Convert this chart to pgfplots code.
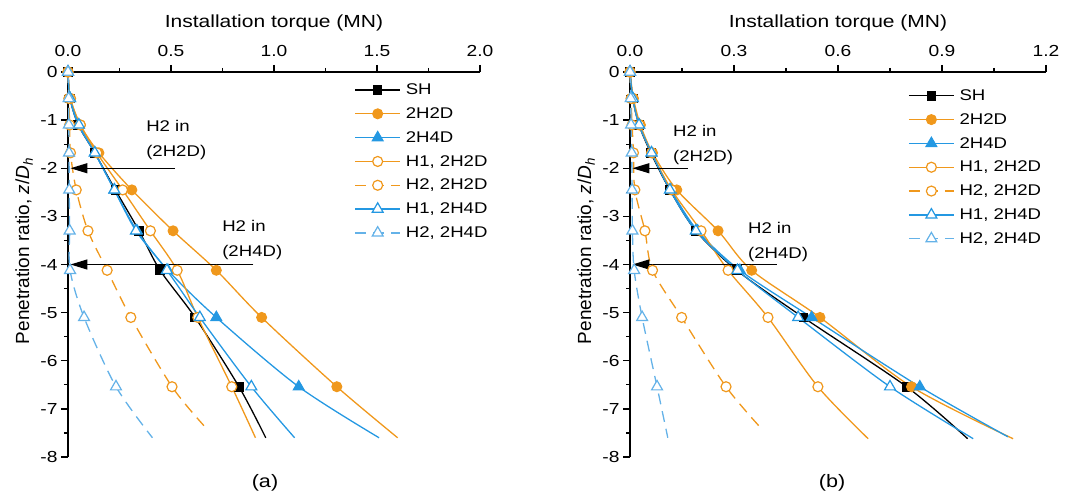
\documentclass[border=0pt]{standalone}
\usepackage{fontspec}
\setmainfont{Liberation Sans}[FakeStretch=1.2]
\newfontfamily\labfont{Liberation Sans}
\usepackage{pgfplots}
\pgfplotsset{compat=1.18}
\usetikzlibrary{arrows.meta}

\definecolor{tqorange}{RGB}{240,152,28}
\definecolor{tqblue}{RGB}{36,152,226}
\definecolor{tqlblue}{RGB}{100,178,232}

\pgfplotsset{
  torque/.style={
    scale only axis, height=385pt,
    axis x line*=top, axis y line*=left,
    xmin=0, ymin=-8, ymax=0,
    ytick={0,-1,-2,-3,-4,-5,-6,-7,-8},
    minor x tick num=1, minor y tick num=1,
    tick align=outside, major tick length=7pt, minor tick length=4pt,
    every tick/.style={black, line width=1.3pt},
    axis line style={black, line width=1.5pt},
    tick label style={font=\fontsize{16}{18}\selectfont},
    /pgf/number format/assume math mode=true,
    xticklabel style={/pgf/number format/fixed, /pgf/number format/fixed zerofill,
      /pgf/number format/precision=1, yshift=5pt},
    yticklabel style={/pgf/number format/fixed, /pgf/number format/precision=0},
    xlabel={Installation torque (MN)},
    xlabel style={font=\fontsize{17.5}{20}\selectfont, at={(axis description cs:0.5,1)},
      anchor=base, yshift=44pt},
    ylabel={\labfont\fontsize{19}{22}\selectfont Penetration ratio, \textit{z}/\textit{D}\textsubscript{\textit{h}}},
    ylabel style={at={([xshift=-35pt]axis description cs:0,0.535)}, anchor=south, inner sep=0pt},
    clip=false,
    legend cell align=left,
    legend style={draw=none, fill=none, inner sep=0pt, anchor=north west,
      font=\fontsize{15.5}{17}\selectfont, row sep=7.5pt,
      /tikz/every odd column/.style={column sep=3pt}},
    legend image code/.code={
      \draw[mark=none] (0pt,0pt) -- (45pt,0pt);
      \draw[mark indices={1}] plot coordinates {(22.5pt,0pt)};
    },
  },
  sh/.style={black, line width=1.3pt, smooth, mark=square*, mark size=4.3pt,
    mark options={solid, fill=black, line width=1pt}, mark indices={1,2,3,4,5,6,7,8,9}},
  ofull/.style={tqorange, line width=1.3pt, smooth, mark=*, mark size=5pt,
    mark options={solid, fill=tqorange, line width=1pt}, mark indices={1,2,3,4,5,6,7,8,9}},
  bfull/.style={tqblue, line width=1.3pt, smooth, mark=triangle*, mark size=6.3pt,
    mark options={solid, fill=tqblue, line width=1pt}, mark indices={1,2,3,4,5,6,7,8,9}},
  oopen/.style={tqorange, line width=1.3pt, smooth, mark=*, mark size=5pt,
    mark options={solid, fill=white, line width=1.2pt}, mark indices={1,2,3,4,5,6,7,8,9}},
  bopen/.style={tqblue, line width=1.3pt, smooth, mark=triangle*, mark size=6.3pt,
    mark options={solid, fill=white, line width=1.2pt}, mark indices={1,2,3,4,5,6,7,8,9}},
  odash/.style={oopen, dash pattern=on 11pt off 7pt},
  bdash/.style={bopen, tqlblue, dash pattern=on 11pt off 7pt},
}

\begin{document}
\begin{tikzpicture}
\path[use as bounding box] (0pt,0pt) rectangle (1074pt,493pt);

% ---------- (a) ----------
\begin{axis}[torque, at={(68pt,421pt)}, anchor=north west, width=412pt,
  xmax=2, xtick={0,0.5,1,1.5,2},
  legend style={at={(axis cs:1.39,-0.2)}}]
\addplot[sh] coordinates {(0,0) (0.01,-0.55) (0.05,-1.1) (0.13,-1.68) (0.23,-2.45) (0.345,-3.3) (0.447,-4.12) (0.617,-5.1) (0.83,-6.54) (0.96,-7.6)};
\addlegendentry{SH}
\addplot[ofull] coordinates {(0,0) (0.012,-0.55) (0.06,-1.1) (0.15,-1.68) (0.31,-2.45) (0.51,-3.3) (0.72,-4.12) (0.94,-5.1) (1.305,-6.54) (1.60,-7.6)};
\addlegendentry{2H2D}
\addplot[bfull] coordinates {(0,0) (0.01,-0.55) (0.05,-1.1) (0.13,-1.68) (0.225,-2.45) (0.335,-3.3) (0.485,-4.12) (0.72,-5.1) (1.12,-6.54) (1.51,-7.6)};
\addlegendentry{2H4D}
\addplot[oopen] coordinates {(0,0) (0.012,-0.55) (0.06,-1.1) (0.14,-1.68) (0.265,-2.45) (0.40,-3.3) (0.53,-4.12) (0.63,-5.1) (0.795,-6.54) (0.91,-7.6)};
\addlegendentry{H1, 2H2D}
\addplot[odash] coordinates {(0,0) (0.004,-0.55) (0.008,-1.1) (0.012,-1.68) (0.04,-2.45) (0.097,-3.3) (0.19,-4.12) (0.305,-5.1) (0.505,-6.54) (0.66,-7.35)};
\addlegendentry{H2, 2H2D}
\addplot[bopen] coordinates {(0,0) (0.01,-0.55) (0.053,-1.1) (0.13,-1.68) (0.225,-2.45) (0.33,-3.3) (0.48,-4.12) (0.64,-5.1) (0.89,-6.54) (1.10,-7.6)};
\addlegendentry{H1, 2H4D}
\addplot[bdash] coordinates {(0,0) (0.003,-0.55) (0.004,-1.1) (0.005,-1.68) (0.006,-2.45) (0.008,-3.3) (0.01,-4.12) (0.078,-5.1) (0.233,-6.54) (0.41,-7.6)};
\addlegendentry{H2, 2H4D}

\draw[black, line width=1.3pt, -{Triangle[length=17pt,width=10pt]}] (axis cs:0.52,-2) -- (axis cs:0.012,-2);
\draw[black, line width=1.3pt, -{Triangle[length=17pt,width=10pt]}] (axis cs:0.90,-4) -- (axis cs:0.012,-4);
\node[anchor=north west, align=left, inner sep=0pt, font=\fontsize{15.5}{25}\selectfont]
  at (axis cs:0.379,-1.0) {H2 in\\(2H2D)};
\node[anchor=north west, align=left, inner sep=0pt, font=\fontsize{15.5}{25}\selectfont]
  at (axis cs:0.748,-3.08) {H2 in\\(2H4D)};
\end{axis}

% ---------- (b) ----------
\begin{axis}[torque, at={(630pt,421pt)}, anchor=north west, width=416pt,
  xmax=1.2, xtick={0,0.3,0.6,0.9,1.2},
  legend style={at={(axis cs:0.802,-0.32)}}]
\addplot[sh] coordinates {(0,0) (0.008,-0.55) (0.026,-1.1) (0.06,-1.68) (0.115,-2.45) (0.19,-3.3) (0.308,-4.12) (0.50,-5.1) (0.798,-6.54) (0.974,-7.62)};
\addlegendentry{SH}
\addplot[ofull] coordinates {(0,0) (0.01,-0.55) (0.03,-1.1) (0.065,-1.68) (0.135,-2.45) (0.254,-3.3) (0.351,-4.12) (0.548,-5.1) (0.812,-6.54) (1.105,-7.62)};
\addlegendentry{2H2D}
\addplot[bfull] coordinates {(0,0) (0.008,-0.55) (0.027,-1.1) (0.062,-1.68) (0.118,-2.45) (0.195,-3.3) (0.317,-4.12) (0.524,-5.1) (0.836,-6.54) (1.09,-7.58)};
\addlegendentry{2H4D}
\addplot[oopen] coordinates {(0,0) (0.008,-0.55) (0.027,-1.1) (0.062,-1.68) (0.12,-2.45) (0.205,-3.3) (0.283,-4.12) (0.398,-5.1) (0.542,-6.54) (0.687,-7.62)};
\addlegendentry{H1, 2H2D}
\addplot[odash] coordinates {(0,0) (0.003,-0.55) (0.006,-1.1) (0.01,-1.68) (0.014,-2.45) (0.043,-3.3) (0.065,-4.12) (0.149,-5.1) (0.277,-6.54) (0.384,-7.45)};
\addlegendentry{H2, 2H2D}
\addplot[bopen] coordinates {(0,0) (0.008,-0.55) (0.026,-1.1) (0.062,-1.68) (0.115,-2.45) (0.19,-3.3) (0.31,-4.12) (0.485,-5.1) (0.75,-6.54) (0.99,-7.62)};
\addlegendentry{H1, 2H4D}
\addplot[bdash] coordinates {(0,0) (0.002,-0.55) (0.003,-1.1) (0.005,-1.68) (0.006,-2.45) (0.007,-3.3) (0.012,-4.12) (0.035,-5.1) (0.078,-6.54) (0.109,-7.6)};
\addlegendentry{H2, 2H4D}

\draw[black, line width=1.3pt, -{Triangle[length=17pt,width=10pt]}] (axis cs:0.167,-2) -- (axis cs:0.007,-2);
\draw[black, line width=1.3pt, -{Triangle[length=17pt,width=10pt]}] (axis cs:0.424,-4) -- (axis cs:0.007,-4);
\node[anchor=north west, align=left, inner sep=0pt, font=\fontsize{15.5}{25}\selectfont]
  at (axis cs:0.124,-1.1) {H2 in\\(2H2D)};
\node[anchor=north west, align=left, inner sep=0pt, font=\fontsize{15.5}{25}\selectfont]
  at (axis cs:0.34,-3.12) {H2 in\\(2H4D)};
\end{axis}

\node[font=\fontsize{18}{20}\selectfont] at (265pt,10pt) {(a)};
\node[font=\fontsize{18}{20}\selectfont] at (832pt,10pt) {(b)};
\end{tikzpicture}
\end{document}
